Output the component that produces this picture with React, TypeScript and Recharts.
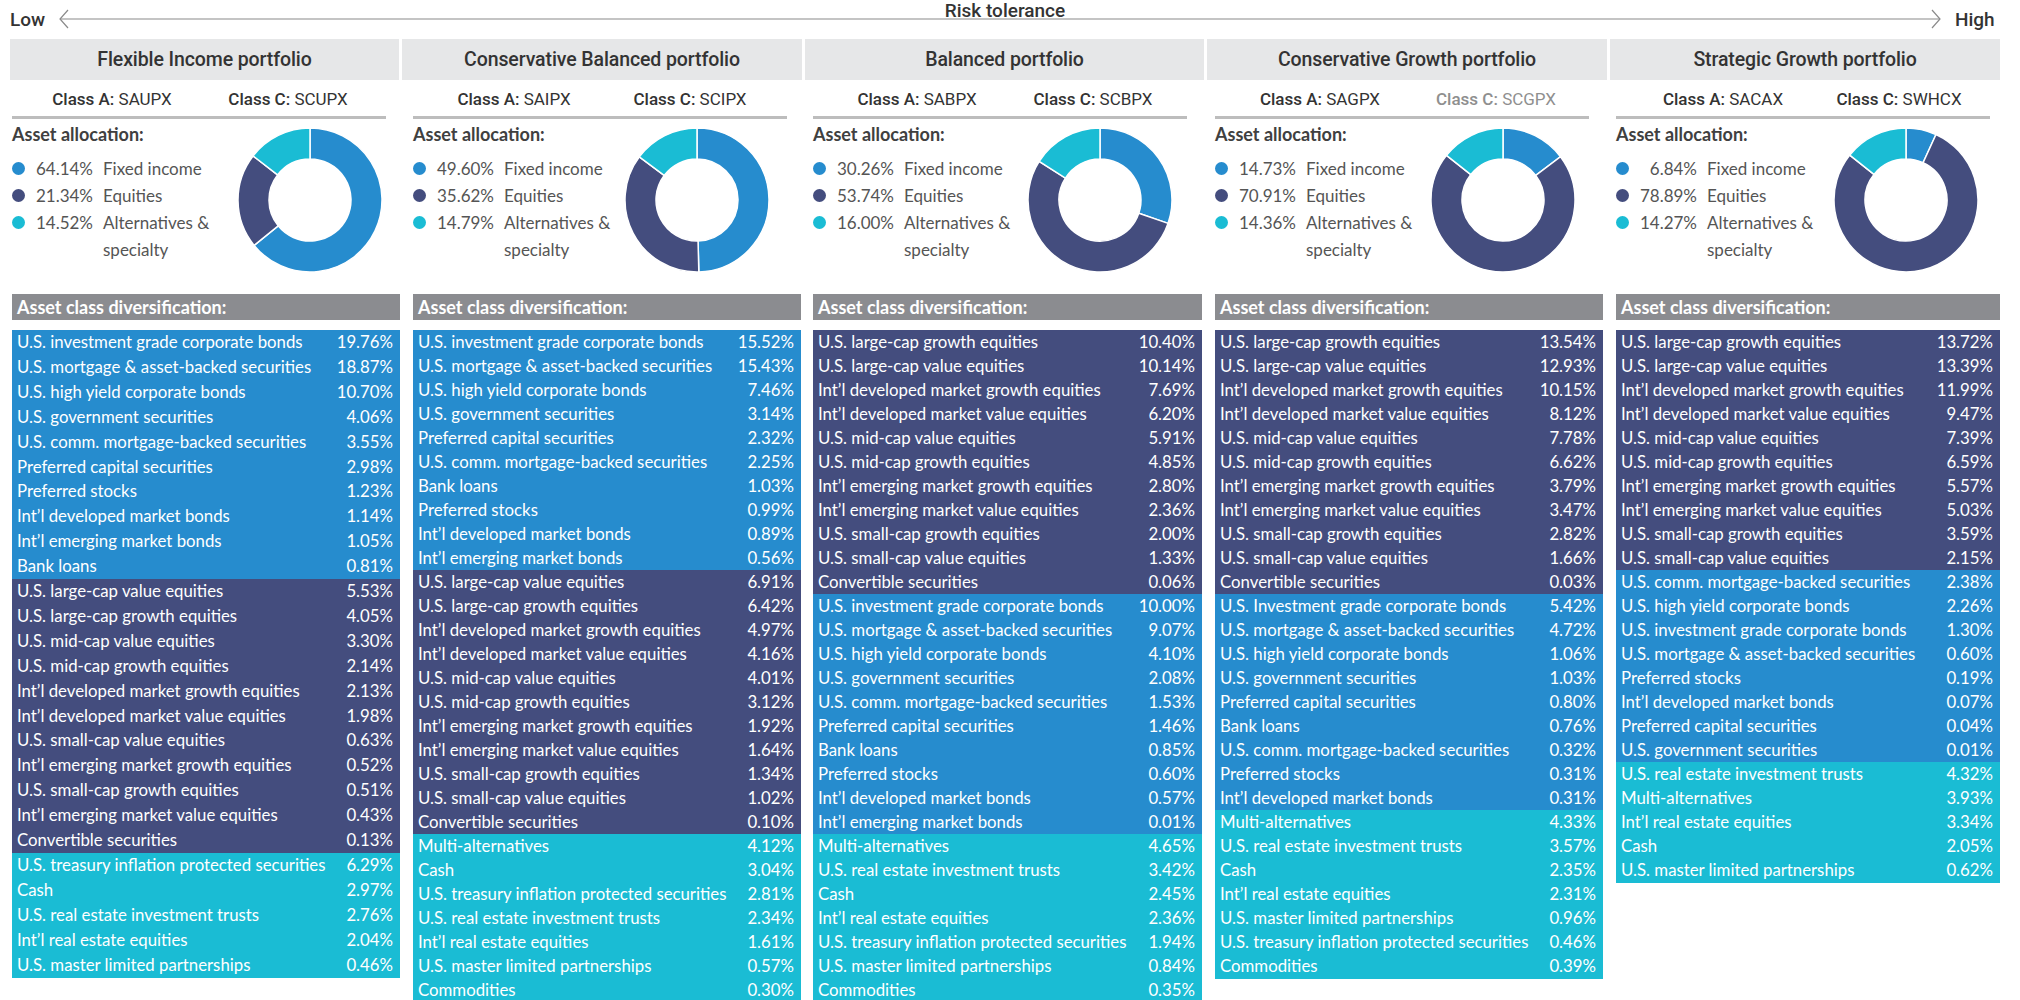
import React from "react";
import { PieChart, Pie, Cell } from "recharts";

type Row = [string, number];

// ------- data -------
const PORTFOLIOS = [
  "Flexible Income portfolio",
  "Conservative Balanced portfolio",
  "Balanced portfolio",
  "Conservative Growth portfolio",
  "Strategic Growth portfolio",
];
const CLASS_A = ["SAUPX", "SAIPX", "SABPX", "SAGPX", "SACAX"];
const CLASS_C = ["SCUPX", "SCIPX", "SCBPX", "SCGPX", "SWHCX"];

const ALLOC_LABELS = ["Fixed income", "Equities", "Alternatives & specialty"];
const FIXED_INCOME = [64.14, 49.6, 30.26, 14.73, 6.84];
const EQUITIES = [21.34, 35.62, 53.74, 70.91, 78.89];
const ALTERNATIVES = [14.52, 14.79, 16.0, 14.36, 14.27];

const FLEX_FIXED: Row[] = [
  ["U.S. investment grade corporate bonds", 19.76],
  ["U.S. mortgage & asset-backed securities", 18.87],
  ["U.S. high yield corporate bonds", 10.7],
  ["U.S. government securities", 4.06],
  ["U.S. comm. mortgage-backed securities", 3.55],
  ["Preferred capital securities", 2.98],
  ["Preferred stocks", 1.23],
  ["Int\u2019l developed market bonds", 1.14],
  ["Int\u2019l emerging market bonds", 1.05],
  ["Bank loans", 0.81],
];
const FLEX_EQUITY: Row[] = [
  ["U.S. large-cap value equities", 5.53],
  ["U.S. large-cap growth equities", 4.05],
  ["U.S. mid-cap value equities", 3.3],
  ["U.S. mid-cap growth equities", 2.14],
  ["Int\u2019l developed market growth equities", 2.13],
  ["Int\u2019l developed market value equities", 1.98],
  ["U.S. small-cap value equities", 0.63],
  ["Int\u2019l emerging market growth equities", 0.52],
  ["U.S. small-cap growth equities", 0.51],
  ["Int\u2019l emerging market value equities", 0.43],
  ["Convertible securities", 0.13],
];
const FLEX_ALT: Row[] = [
  ["U.S. treasury inflation protected securities", 6.29],
  ["Cash", 2.97],
  ["U.S. real estate investment trusts", 2.76],
  ["Int\u2019l real estate equities", 2.04],
  ["U.S. master limited partnerships", 0.46],
];

const CBAL_FIXED: Row[] = [
  ["U.S. investment grade corporate bonds", 15.52],
  ["U.S. mortgage & asset-backed securities", 15.43],
  ["U.S. high yield corporate bonds", 7.46],
  ["U.S. government securities", 3.14],
  ["Preferred capital securities", 2.32],
  ["U.S. comm. mortgage-backed securities", 2.25],
  ["Bank loans", 1.03],
  ["Preferred stocks", 0.99],
  ["Int\u2019l developed market bonds", 0.89],
  ["Int\u2019l emerging market bonds", 0.56],
];
const CBAL_EQUITY: Row[] = [
  ["U.S. large-cap value equities", 6.91],
  ["U.S. large-cap growth equities", 6.42],
  ["Int\u2019l developed market growth equities", 4.97],
  ["Int\u2019l developed market value equities", 4.16],
  ["U.S. mid-cap value equities", 4.01],
  ["U.S. mid-cap growth equities", 3.12],
  ["Int\u2019l emerging market growth equities", 1.92],
  ["Int\u2019l emerging market value equities", 1.64],
  ["U.S. small-cap growth equities", 1.34],
  ["U.S. small-cap value equities", 1.02],
  ["Convertible securities", 0.1],
];
const CBAL_ALT: Row[] = [
  ["Multi-alternatives", 4.12],
  ["Cash", 3.04],
  ["U.S. treasury inflation protected securities", 2.81],
  ["U.S. real estate investment trusts", 2.34],
  ["Int\u2019l real estate equities", 1.61],
  ["U.S. master limited partnerships", 0.57],
  ["Commodities", 0.3],
];

const BAL_EQUITY: Row[] = [
  ["U.S. large-cap growth equities", 10.4],
  ["U.S. large-cap value equities", 10.14],
  ["Int\u2019l developed market growth equities", 7.69],
  ["Int\u2019l developed market value equities", 6.2],
  ["U.S. mid-cap value equities", 5.91],
  ["U.S. mid-cap growth equities", 4.85],
  ["Int\u2019l emerging market growth equities", 2.8],
  ["Int\u2019l emerging market value equities", 2.36],
  ["U.S. small-cap growth equities", 2.0],
  ["U.S. small-cap value equities", 1.33],
  ["Convertible securities", 0.06],
];
const BAL_FIXED: Row[] = [
  ["U.S. investment grade corporate bonds", 10.0],
  ["U.S. mortgage & asset-backed securities", 9.07],
  ["U.S. high yield corporate bonds", 4.1],
  ["U.S. government securities", 2.08],
  ["U.S. comm. mortgage-backed securities", 1.53],
  ["Preferred capital securities", 1.46],
  ["Bank loans", 0.85],
  ["Preferred stocks", 0.6],
  ["Int\u2019l developed market bonds", 0.57],
  ["Int\u2019l emerging market bonds", 0.01],
];
const BAL_ALT: Row[] = [
  ["Multi-alternatives", 4.65],
  ["U.S. real estate investment trusts", 3.42],
  ["Cash", 2.45],
  ["Int\u2019l real estate equities", 2.36],
  ["U.S. treasury inflation protected securities", 1.94],
  ["U.S. master limited partnerships", 0.84],
  ["Commodities", 0.35],
];

const CGRO_EQUITY: Row[] = [
  ["U.S. large-cap growth equities", 13.54],
  ["U.S. large-cap value equities", 12.93],
  ["Int\u2019l developed market growth equities", 10.15],
  ["Int\u2019l developed market value equities", 8.12],
  ["U.S. mid-cap value equities", 7.78],
  ["U.S. mid-cap growth equities", 6.62],
  ["Int\u2019l emerging market growth equities", 3.79],
  ["Int\u2019l emerging market value equities", 3.47],
  ["U.S. small-cap growth equities", 2.82],
  ["U.S. small-cap value equities", 1.66],
  ["Convertible securities", 0.03],
];
const CGRO_FIXED: Row[] = [
  ["U.S. Investment grade corporate bonds", 5.42],
  ["U.S. mortgage & asset-backed securities", 4.72],
  ["U.S. high yield corporate bonds", 1.06],
  ["U.S. government securities", 1.03],
  ["Preferred capital securities", 0.8],
  ["Bank loans", 0.76],
  ["U.S. comm. mortgage-backed securities", 0.32],
  ["Preferred stocks", 0.31],
  ["Int\u2019l developed market bonds", 0.31],
];
const CGRO_ALT: Row[] = [
  ["Multi-alternatives", 4.33],
  ["U.S. real estate investment trusts", 3.57],
  ["Cash", 2.35],
  ["Int\u2019l real estate equities", 2.31],
  ["U.S. master limited partnerships", 0.96],
  ["U.S. treasury inflation protected securities", 0.46],
  ["Commodities", 0.39],
];

const SGRO_EQUITY: Row[] = [
  ["U.S. large-cap growth equities", 13.72],
  ["U.S. large-cap value equities", 13.39],
  ["Int\u2019l developed market growth equities", 11.99],
  ["Int\u2019l developed market value equities", 9.47],
  ["U.S. mid-cap value equities", 7.39],
  ["U.S. mid-cap growth equities", 6.59],
  ["Int\u2019l emerging market growth equities", 5.57],
  ["Int\u2019l emerging market value equities", 5.03],
  ["U.S. small-cap growth equities", 3.59],
  ["U.S. small-cap value equities", 2.15],
];
const SGRO_FIXED: Row[] = [
  ["U.S. comm. mortgage-backed securities", 2.38],
  ["U.S. high yield corporate bonds", 2.26],
  ["U.S. investment grade corporate bonds", 1.3],
  ["U.S. mortgage & asset-backed securities", 0.6],
  ["Preferred stocks", 0.19],
  ["Int\u2019l developed market bonds", 0.07],
  ["Preferred capital securities", 0.04],
  ["U.S. government securities", 0.01],
];
const SGRO_ALT: Row[] = [
  ["U.S. real estate investment trusts", 4.32],
  ["Multi-alternatives", 3.93],
  ["Int\u2019l real estate equities", 3.34],
  ["Cash", 2.05],
  ["U.S. master limited partnerships", 0.62],
];

// ------- style -------
const BLUE = "#268cce";
const NAVY = "#444d7e";
const TEAL = "#1abcd4";
const ALLOC_COLORS = [BLUE, NAVY, TEAL];

const TABLES = [
  [{ rows: FLEX_FIXED, color: BLUE }, { rows: FLEX_EQUITY, color: NAVY }, { rows: FLEX_ALT, color: TEAL }],
  [{ rows: CBAL_FIXED, color: BLUE }, { rows: CBAL_EQUITY, color: NAVY }, { rows: CBAL_ALT, color: TEAL }],
  [{ rows: BAL_EQUITY, color: NAVY }, { rows: BAL_FIXED, color: BLUE }, { rows: BAL_ALT, color: TEAL }],
  [{ rows: CGRO_EQUITY, color: NAVY }, { rows: CGRO_FIXED, color: BLUE }, { rows: CGRO_ALT, color: TEAL }],
  [{ rows: SGRO_EQUITY, color: NAVY }, { rows: SGRO_FIXED, color: BLUE }, { rows: SGRO_ALT, color: TEAL }],
];

// layout per column
const HEAD_L = [10, 402, 805, 1207, 1610];
const HEAD_R = [399, 802, 1204, 1607, 2000];
const BODY_L = [12, 413, 813, 1215, 1616];
const BODY_W = [388, 388, 389, 388, 384];
const CLASS_X = [200, 602, 1005, 1408, 1811];
const DONUT_X = [305, 692, 1095, 1498, 1901];
const DONUT_Y = 195;
const ROW_H = [24.9, 24, 24, 24, 24];

const HEAD_FONT = "Roboto, 'Noto Sans', sans-serif";
const BODY_FONT = "Lato, 'Noto Sans', sans-serif";
const pct = (v: number) => `${v.toFixed(2)}%`;

function RiskArrow() {
  const txt = { position: "absolute" as const, fontFamily: HEAD_FONT, fontWeight: 500, fontSize: 19, color: "#333", lineHeight: "22px" };
  return (
    <>
      <svg width={2020} height={40} style={{ position: "absolute", left: 0, top: 0 }}>
        <line x1={60} y1={19} x2={1940} y2={19} stroke="#8a8a8a" strokeWidth={1.2} />
        <polyline points="68,10 60,19 68,28" fill="none" stroke="#8a8a8a" strokeWidth={1.2} />
        <polyline points="1932,10 1940,19 1932,28" fill="none" stroke="#8a8a8a" strokeWidth={1.2} />
      </svg>
      <div style={{ ...txt, left: 10, top: 9 }}>Low</div>
      <div style={{ ...txt, left: 1955, top: 9 }}>High</div>
      <div style={{ ...txt, left: 880, width: 250, top: 0, textAlign: "center" }}>Risk tolerance</div>
    </>
  );
}

function Donut({ i }: { i: number }) {
  const data = [
    { name: ALLOC_LABELS[0], value: FIXED_INCOME[i] },
    { name: ALLOC_LABELS[1], value: EQUITIES[i] },
    { name: ALLOC_LABELS[2], value: ALTERNATIVES[i] },
  ];
  return (
    <div style={{ position: "absolute", left: DONUT_X[i] - 80, top: DONUT_Y - 80 }}>
      <PieChart width={160} height={160}>
        <Pie
          data={data}
          dataKey="value"
          cx={80}
          cy={80}
          innerRadius={41}
          outerRadius={72}
          startAngle={90}
          endAngle={-270}
          stroke="#fff"
          strokeWidth={1.5}
          isAnimationActive={false}
        >
          {data.map((d, k) => (
            <Cell key={d.name} fill={ALLOC_COLORS[k]} />
          ))}
        </Pie>
      </PieChart>
    </div>
  );
}

function Column({ i }: { i: number }) {
  const L = BODY_L[i];
  const W = BODY_W[i];
  const rh = ROW_H[i];
  const alloc = [FIXED_INCOME[i], EQUITIES[i], ALTERNATIVES[i]];
  const rows: { label: string; value: number; color: string }[] = [];
  TABLES[i].forEach((g) => g.rows.forEach(([label, value]) => rows.push({ label, value, color: g.color })));
  const classC = i === 3 ? "#8f8f8f" : "#333";

  return (
    <>
      {/* header */}
      <div
        style={{
          position: "absolute",
          left: HEAD_L[i],
          width: HEAD_R[i] - HEAD_L[i],
          top: 39,
          height: 41,
          background: "#e6e7e8",
          fontFamily: HEAD_FONT,
          fontWeight: 500,
          fontSize: 19.5,
          color: "#333",
          lineHeight: "41px",
          textAlign: "center",
          letterSpacing: -0.1,
        }}
      >
        {PORTFOLIOS[i]}
      </div>
      {/* share classes */}
      <div style={{ position: "absolute", left: CLASS_X[i] - 175, width: 174, top: 88, lineHeight: "22px", textAlign: "center", fontFamily: HEAD_FONT, fontSize: 17, color: "#333" }}>
        <b style={{ fontWeight: 500 }}>Class A:</b> {CLASS_A[i]}
      </div>
      <div style={{ position: "absolute", left: CLASS_X[i] + 1, width: 174, top: 88, lineHeight: "22px", textAlign: "center", fontFamily: HEAD_FONT, fontSize: 17, color: classC }}>
        <b style={{ fontWeight: 500 }}>Class C:</b> {CLASS_C[i]}
      </div>
      <div style={{ position: "absolute", left: L, width: 374, top: 116, height: 3, background: "#bdbdbd" }} />

      {/* allocation legend */}
      <div style={{ position: "absolute", left: L, top: 123, lineHeight: "22px", fontFamily: BODY_FONT, fontWeight: 700, fontSize: 18, color: "#404040" }}>
        Asset allocation:
      </div>
      {ALLOC_LABELS.map((lab, k) => (
        <div key={lab} style={{ position: "absolute", left: L, top: 155 + k * 27, height: 27, fontFamily: BODY_FONT, fontSize: 17, color: "#555", lineHeight: "27px" }}>
          <span style={{ position: "absolute", left: 0, top: 7, width: 13, height: 13, borderRadius: "50%", background: ALLOC_COLORS[k] }} />
          <span style={{ position: "absolute", left: 20, width: 61, textAlign: "right" }}>{pct(alloc[k])}</span>
          <span style={{ position: "absolute", left: 91, width: 125 }}>{lab}</span>
        </div>
      ))}
      <Donut i={i} />

      {/* diversification table */}
      <div
        style={{
          position: "absolute",
          left: L,
          width: W,
          top: 294,
          height: 26,
          background: "#8b8c90",
          color: "#fff",
          fontFamily: BODY_FONT,
          fontWeight: 700,
          fontSize: 18,
          lineHeight: "26px",
          paddingLeft: 5,
          boxSizing: "border-box",
        }}
      >
        Asset class diversification:
      </div>
      {rows.map((r, k) => (
        <div
          key={k}
          style={{
            position: "absolute",
            left: L,
            width: W,
            top: 330 + k * rh,
            height: Math.ceil(rh) + 0.5,
            background: r.color,
            color: "#fff",
            fontFamily: BODY_FONT,
            fontSize: 16.8,
            lineHeight: `${rh}px`,
          }}
        >
          <span style={{ position: "absolute", left: 5 }}>{r.label}</span>
          <span style={{ position: "absolute", right: 7 }}>{pct(r.value)}</span>
        </div>
      ))}
    </>
  );
}

export default function App() {
  return (
    <div
      style={{
        position: "absolute",
        left: 0,
        top: 0,
        width: 2020,
        height: 1000,
        background: "#fff",
        overflow: "hidden",
        fontFamily: BODY_FONT,
      }}
    >
      <RiskArrow />
      {PORTFOLIOS.map((name, i) => (
        <Column key={name} i={i} />
      ))}
    </div>
  );
}
